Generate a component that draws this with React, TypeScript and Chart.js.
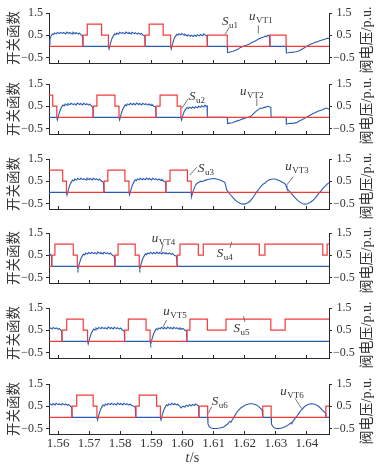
import React, { useEffect, useRef } from 'react';
import { Chart, registerables } from 'chart.js';

Chart.register(...registerables);

// ---------- axes ----------
const X_MIN = 1.5571;
const X_MAX = 1.6471;
const Y_MIN = -0.75;
const Y_MAX = 1.5;
const xTickValues = [1.56, 1.57, 1.58, 1.59, 1.6, 1.61, 1.62, 1.63, 1.64];
const yTickValues = [-0.5, 0.5, 1.5];
const leftTitle = '开关函数';
const rightTitle = '阀电压/p.u.';
const xTitleItalic = 't';
const xTitleRest = '/s';

// ---------- switching functions: [time, value from this time on] ----------
const switchU1 = [[1.5571, 0], [1.568, 0.5], [1.5694, 1], [1.574, 0.5], [1.5762, 0], [1.588, 0.5], [1.5893, 1], [1.5938, 0.5], [1.5962, 0], [1.608, 0.5], [1.6144, 0], [1.6281, 0.5], [1.6333, 0], [1.6471, 0]];
const switchU2 = [[1.5571, 1], [1.5583, 0.5], [1.5596, 0], [1.5713, 0.5], [1.5725, 1], [1.5783, 0.5], [1.5796, 0], [1.5915, 0.5], [1.5928, 1], [1.5983, 0.5], [1.5995, 0], [1.6471, 0]];
const switchU3 = [[1.5571, 1], [1.5615, 0.5], [1.5627, 0], [1.5748, 0.5], [1.576, 1], [1.5815, 0.5], [1.5828, 0], [1.5947, 0.5], [1.596, 1], [1.6016, 0.5], [1.6028, 0], [1.6471, 0]];
const switchU4 = [[1.5571, 0], [1.558, 0.5], [1.559, 1], [1.5649, 0.5], [1.5662, 0], [1.5783, 0.5], [1.5793, 1], [1.5848, 0.5], [1.5861, 0], [1.5983, 0.5], [1.5992, 1], [1.6051, 0.5], [1.6067, 1], [1.6247, 0.5], [1.6265, 1], [1.6451, 0.5], [1.6465, 1], [1.6471, 1]];
const switchU5 = [[1.5571, 0], [1.5613, 0.5], [1.5628, 1], [1.5681, 0.5], [1.5695, 0], [1.5814, 0.5], [1.5826, 1], [1.5883, 0.5], [1.5896, 0], [1.6014, 0.5], [1.6024, 1], [1.608, 0.5], [1.614, 1], [1.6284, 0.5], [1.633, 1], [1.6471, 1]];
const switchU6 = [[1.5571, 0], [1.5645, 0.5], [1.566, 1], [1.5713, 0.5], [1.5725, 0], [1.585, 0.5], [1.5861, 1], [1.5917, 0.5], [1.5929, 0], [1.6053, 0.5], [1.6081, 0], [1.6258, 0.5], [1.6285, 0], [1.6461, 0.5], [1.6471, 0.5]];

// ---------- valve voltages: [time, p.u.] ----------
const voltVT1 = [
  [1.5571, 0.08], [1.5574, 0.3], [1.5578, 0.48], [1.5582, 0.56], [1.5586, 0.53], [1.5589, 0.6], [1.5595, 0.56], [1.5598, 0.62], [1.5605, 0.57], [1.5608, 0.63], [1.5615, 0.58], [1.5618, 0.62], [1.5625, 0.56], [1.5628, 0.64], [1.5635, 0.58], [1.5638, 0.62], [1.5645, 0.56], [1.5648, 0.63], [1.5655, 0.57], [1.5658, 0.62], [1.5665, 0.55], [1.5668, 0.6], [1.5675, 0.5], [1.5679, 0.45], [1.568, 0],
  [1.5762, 0], [1.5764, -0.12], [1.5768, 0.1], [1.5773, 0.34], [1.5778, 0.47], [1.5782, 0.56], [1.5786, 0.52], [1.5789, 0.6], [1.5795, 0.55], [1.5798, 0.63], [1.5805, 0.58], [1.5808, 0.62], [1.5815, 0.57], [1.5818, 0.64], [1.5825, 0.58], [1.5828, 0.62], [1.5835, 0.56], [1.5838, 0.63], [1.5845, 0.57], [1.5848, 0.61], [1.5855, 0.55], [1.5858, 0.6], [1.5865, 0.54], [1.5868, 0.58], [1.5874, 0.5], [1.5879, 0.46], [1.588, 0],
  [1.5962, 0], [1.5964, -0.12], [1.5968, 0.1], [1.5973, 0.34], [1.5978, 0.46], [1.5982, 0.54], [1.5986, 0.5], [1.5989, 0.57], [1.5995, 0.52], [1.5998, 0.58], [1.6005, 0.5], [1.6008, 0.55], [1.6015, 0.47], [1.6018, 0.52], [1.6025, 0.45], [1.6028, 0.5], [1.6035, 0.44], [1.6038, 0.5], [1.6045, 0.45], [1.6048, 0.52], [1.6055, 0.47], [1.6058, 0.53], [1.6065, 0.48], [1.6068, 0.56], [1.6074, 0.5], [1.6079, 0.47], [1.608, 0],
  [1.6144, 0], [1.6145, -0.28], [1.615, -0.27], [1.6156, -0.24], [1.6163, -0.22], [1.617, -0.18], [1.6177, -0.14], [1.6185, -0.06], [1.6192, -0.02], [1.62, 0.02], [1.6208, 0.06], [1.6217, 0.12], [1.6224, 0.18], [1.6231, 0.22], [1.6238, 0.27], [1.6244, 0.33], [1.625, 0.36], [1.6256, 0.4], [1.6262, 0.42], [1.6266, 0.46], [1.627, 0.44], [1.6275, 0.5], [1.6279, 0.48], [1.6281, 0],
  [1.6333, 0], [1.6334, -0.3], [1.634, -0.29], [1.6348, -0.27], [1.6356, -0.26], [1.6364, -0.24], [1.6371, -0.22], [1.6378, -0.18], [1.6385, -0.12], [1.6392, -0.06], [1.6399, 0], [1.6406, 0.05], [1.6413, 0.1], [1.642, 0.14], [1.6426, 0.18], [1.6432, 0.2], [1.6439, 0.24], [1.6446, 0.27], [1.6452, 0.3], [1.6458, 0.32], [1.6464, 0.36], [1.6471, 0.35],
];
const voltVT2 = [
  [1.5571, 0], [1.5596, 0], [1.5598, -0.12], [1.5602, 0.1], [1.5607, 0.33], [1.5612, 0.47], [1.5616, 0.55], [1.562, 0.51], [1.5623, 0.6], [1.5629, 0.55], [1.5632, 0.62], [1.5639, 0.57], [1.5642, 0.63], [1.5649, 0.57], [1.5652, 0.61], [1.5659, 0.56], [1.5662, 0.64], [1.5669, 0.58], [1.5672, 0.62], [1.5679, 0.56], [1.5682, 0.63], [1.5689, 0.57], [1.5692, 0.61], [1.5699, 0.55], [1.5702, 0.6], [1.5708, 0.5], [1.5712, 0.45], [1.5713, 0],
  [1.5796, 0], [1.5798, -0.12], [1.5802, 0.1], [1.5807, 0.33], [1.5812, 0.47], [1.5816, 0.56], [1.582, 0.52], [1.5823, 0.6], [1.5829, 0.56], [1.5832, 0.63], [1.5839, 0.57], [1.5842, 0.62], [1.5849, 0.57], [1.5852, 0.64], [1.5859, 0.58], [1.5862, 0.62], [1.5869, 0.56], [1.5872, 0.63], [1.5879, 0.57], [1.5882, 0.61], [1.5889, 0.55], [1.5892, 0.6], [1.5899, 0.54], [1.5902, 0.58], [1.5908, 0.5], [1.5914, 0.46], [1.5915, 0],
  [1.5995, 0], [1.5997, -0.12], [1.6001, 0.08], [1.6006, 0.28], [1.6011, 0.38], [1.6015, 0.44], [1.6019, 0.4], [1.6022, 0.46], [1.6029, 0.41], [1.6032, 0.47], [1.6039, 0.42], [1.6042, 0.48], [1.6049, 0.43], [1.6052, 0.5], [1.6059, 0.45], [1.6062, 0.52], [1.6069, 0.47], [1.6072, 0.55], [1.6076, 0.5], [1.6079, 0.52], [1.608, 0],
  [1.6144, 0], [1.6145, -0.28], [1.6152, -0.26], [1.616, -0.24], [1.6168, -0.2], [1.6176, -0.16], [1.6185, -0.12], [1.6192, -0.08], [1.62, -0.04], [1.6208, -0.01], [1.6217, 0.02], [1.6224, 0.1], [1.6231, 0.2], [1.6239, 0.3], [1.6245, 0.36], [1.625, 0.42], [1.6256, 0.4], [1.6262, 0.45], [1.6268, 0.46], [1.6273, 0.5], [1.6279, 0.48], [1.6284, 0.45], [1.6285, 0],
  [1.6333, 0], [1.6334, -0.3], [1.6342, -0.28], [1.635, -0.27], [1.6358, -0.26], [1.6367, -0.24], [1.6374, -0.18], [1.6381, -0.13], [1.6388, -0.08], [1.6394, -0.03], [1.6399, 0], [1.6406, 0.06], [1.6413, 0.12], [1.642, 0.17], [1.6426, 0.21], [1.6432, 0.25], [1.644, 0.3], [1.6448, 0.33], [1.6455, 0.38], [1.6461, 0.42], [1.6466, 0.4], [1.6471, 0.36],
];
const voltVT3 = [
  [1.5571, 0], [1.5627, 0], [1.5629, -0.12], [1.5633, 0.1], [1.5638, 0.33], [1.5643, 0.47], [1.5647, 0.55], [1.5651, 0.51], [1.5654, 0.6], [1.566, 0.55], [1.5663, 0.62], [1.567, 0.57], [1.5673, 0.63], [1.568, 0.57], [1.5683, 0.61], [1.569, 0.56], [1.5693, 0.64], [1.57, 0.58], [1.5703, 0.62], [1.571, 0.56], [1.5713, 0.63], [1.572, 0.57], [1.5723, 0.61], [1.573, 0.55], [1.5733, 0.6], [1.574, 0.5], [1.5746, 0.45], [1.5748, 0],
  [1.5828, 0], [1.583, -0.12], [1.5834, 0.1], [1.5839, 0.33], [1.5844, 0.47], [1.5848, 0.56], [1.5852, 0.52], [1.5855, 0.6], [1.5861, 0.56], [1.5864, 0.63], [1.5871, 0.57], [1.5874, 0.62], [1.5881, 0.57], [1.5884, 0.64], [1.5891, 0.58], [1.5894, 0.62], [1.5901, 0.56], [1.5904, 0.63], [1.5911, 0.57], [1.5914, 0.61], [1.5921, 0.55], [1.5924, 0.6], [1.5931, 0.54], [1.5934, 0.58], [1.594, 0.5], [1.5946, 0.45], [1.5947, 0],
  [1.6028, 0], [1.6029, -0.2], [1.6033, 0], [1.6038, 0.2], [1.6043, 0.35], [1.6048, 0.42], [1.6053, 0.45], [1.6058, 0.5], [1.6063, 0.48], [1.6068, 0.52], [1.6075, 0.55], [1.6082, 0.58], [1.6089, 0.6], [1.6096, 0.61], [1.6103, 0.62], [1.611, 0.6], [1.6118, 0.57], [1.6125, 0.53], [1.6131, 0.49], [1.6136, 0.45], [1.6139, 0.3], [1.6142, 0.12], [1.6148, 0], [1.6155, -0.12], [1.6163, -0.25], [1.617, -0.35], [1.6178, -0.44], [1.6186, -0.5], [1.6194, -0.53], [1.6202, -0.52], [1.621, -0.47], [1.6217, -0.4], [1.6224, -0.28], [1.6231, -0.14], [1.6239, 0.02], [1.6246, 0.15], [1.6253, 0.28], [1.626, 0.38], [1.6266, 0.42], [1.627, 0.48], [1.6276, 0.54], [1.6283, 0.58], [1.629, 0.6], [1.6297, 0.6], [1.6304, 0.57], [1.6311, 0.53], [1.6318, 0.48], [1.6324, 0.43], [1.633, 0.38], [1.6333, 0.3], [1.6336, 0.16], [1.6342, 0.08], [1.6349, -0.04], [1.6356, -0.15], [1.6363, -0.26], [1.637, -0.36], [1.6378, -0.44], [1.6386, -0.51], [1.6394, -0.53], [1.6402, -0.51], [1.641, -0.46], [1.6418, -0.38], [1.6425, -0.28], [1.6432, -0.16], [1.6439, -0.04], [1.6446, 0.08], [1.6453, 0.2], [1.646, 0.3], [1.6466, 0.38], [1.6471, 0.44],
];
const voltVT4 = [
  [1.5571, 0.5], [1.5574, 0.56], [1.5577, 0.5], [1.5579, 0.46], [1.558, 0],
  [1.5662, 0], [1.5664, -0.12], [1.5668, 0.1], [1.5673, 0.33], [1.5678, 0.47], [1.5682, 0.55], [1.5686, 0.51], [1.5689, 0.6], [1.5695, 0.55], [1.5698, 0.62], [1.5705, 0.57], [1.5708, 0.63], [1.5715, 0.57], [1.5718, 0.61], [1.5725, 0.56], [1.5728, 0.64], [1.5735, 0.58], [1.5738, 0.62], [1.5745, 0.56], [1.5748, 0.63], [1.5755, 0.57], [1.5758, 0.61], [1.5765, 0.55], [1.5768, 0.6], [1.5775, 0.5], [1.5781, 0.45], [1.5783, 0],
  [1.5861, 0], [1.5863, -0.12], [1.5867, 0.1], [1.5872, 0.33], [1.5877, 0.47], [1.5881, 0.56], [1.5885, 0.52], [1.5888, 0.6], [1.5894, 0.56], [1.5897, 0.63], [1.5904, 0.57], [1.5907, 0.62], [1.5914, 0.57], [1.5917, 0.64], [1.5924, 0.58], [1.5927, 0.62], [1.5934, 0.56], [1.5937, 0.63], [1.5944, 0.57], [1.5947, 0.61], [1.5954, 0.55], [1.5957, 0.6], [1.5964, 0.54], [1.5967, 0.58], [1.5974, 0.5], [1.5981, 0.45], [1.5983, 0], [1.6471, 0],
];
const voltVT5 = [
  [1.5571, 0.55], [1.5575, 0.6], [1.5581, 0.55], [1.5584, 0.62], [1.5591, 0.57], [1.5594, 0.6], [1.5601, 0.54], [1.5604, 0.58], [1.5609, 0.5], [1.5612, 0.45], [1.5613, 0],
  [1.5695, 0], [1.5697, -0.12], [1.5701, 0.1], [1.5706, 0.33], [1.5711, 0.47], [1.5715, 0.55], [1.5719, 0.51], [1.5722, 0.6], [1.5728, 0.55], [1.5731, 0.62], [1.5738, 0.57], [1.5741, 0.63], [1.5748, 0.57], [1.5751, 0.61], [1.5758, 0.56], [1.5761, 0.64], [1.5768, 0.58], [1.5771, 0.62], [1.5778, 0.56], [1.5781, 0.63], [1.5788, 0.57], [1.5791, 0.61], [1.5798, 0.55], [1.5801, 0.6], [1.5808, 0.5], [1.5813, 0.45], [1.5814, 0],
  [1.5896, 0], [1.5898, -0.12], [1.5902, 0.1], [1.5907, 0.33], [1.5912, 0.47], [1.5916, 0.56], [1.592, 0.52], [1.5923, 0.6], [1.5929, 0.56], [1.5932, 0.63], [1.5939, 0.57], [1.5942, 0.62], [1.5949, 0.57], [1.5952, 0.64], [1.5959, 0.58], [1.5962, 0.62], [1.5969, 0.56], [1.5972, 0.63], [1.5979, 0.57], [1.5982, 0.61], [1.5989, 0.55], [1.5992, 0.6], [1.5999, 0.54], [1.6002, 0.58], [1.6008, 0.5], [1.6013, 0.46], [1.6014, 0], [1.6471, 0],
];
const voltVT6 = [
  [1.5571, 0.55], [1.5575, 0.6], [1.5581, 0.55], [1.5584, 0.62], [1.5591, 0.56], [1.5594, 0.63], [1.5601, 0.57], [1.5604, 0.61], [1.5611, 0.55], [1.5614, 0.62], [1.5621, 0.56], [1.5624, 0.6], [1.5631, 0.54], [1.5634, 0.58], [1.564, 0.5], [1.5644, 0.45], [1.5645, 0],
  [1.5725, 0], [1.5727, -0.12], [1.5731, 0.1], [1.5736, 0.33], [1.5741, 0.47], [1.5745, 0.55], [1.5749, 0.51], [1.5752, 0.6], [1.5758, 0.55], [1.5761, 0.62], [1.5768, 0.57], [1.5771, 0.63], [1.5778, 0.57], [1.5781, 0.61], [1.5788, 0.56], [1.5791, 0.64], [1.5798, 0.58], [1.5801, 0.62], [1.5808, 0.56], [1.5811, 0.63], [1.5818, 0.57], [1.5821, 0.61], [1.5828, 0.55], [1.5831, 0.6], [1.5838, 0.52], [1.5844, 0.5], [1.5848, 0.45], [1.585, 0],
  [1.5929, 0], [1.5931, -0.12], [1.5935, 0.1], [1.594, 0.33], [1.5945, 0.47], [1.5949, 0.56], [1.5953, 0.52], [1.5956, 0.6], [1.5962, 0.56], [1.5965, 0.63], [1.5972, 0.57], [1.5975, 0.62], [1.5982, 0.55], [1.5985, 0.6], [1.5992, 0.48], [1.5996, 0.42], [1.6001, 0.5], [1.6008, 0.46], [1.6012, 0.54], [1.6019, 0.5], [1.6022, 0.57], [1.6029, 0.52], [1.6032, 0.58], [1.6039, 0.53], [1.6042, 0.6], [1.6048, 0.55], [1.6052, 0.5], [1.6053, 0],
  [1.6081, 0], [1.6082, -0.3], [1.6086, -0.42], [1.6092, -0.48], [1.61, -0.5], [1.611, -0.5], [1.612, -0.48], [1.6131, -0.45], [1.6138, -0.38], [1.6145, -0.3], [1.615, -0.22], [1.6153, -0.18], [1.6156, -0.2], [1.616, -0.12], [1.6166, 0.02], [1.6174, 0.22], [1.6182, 0.35], [1.6189, 0.44], [1.6196, 0.5], [1.6203, 0.55], [1.621, 0.59], [1.6217, 0.61], [1.6224, 0.61], [1.6231, 0.59], [1.6239, 0.55], [1.6245, 0.48], [1.6251, 0.4], [1.6256, 0.33], [1.6258, 0],
  [1.6285, 0], [1.6286, -0.3], [1.6291, -0.42], [1.6297, -0.48], [1.6304, -0.51], [1.6313, -0.5], [1.6324, -0.46], [1.6333, -0.4], [1.634, -0.34], [1.6346, -0.28], [1.635, -0.24], [1.6352, -0.26], [1.6356, -0.16], [1.6362, -0.05], [1.6367, 0.04], [1.6375, 0.2], [1.6382, 0.33], [1.6388, 0.42], [1.6394, 0.5], [1.64, 0.56], [1.6408, 0.6], [1.6415, 0.61], [1.6422, 0.6], [1.643, 0.56], [1.6437, 0.5], [1.6443, 0.42], [1.645, 0.32], [1.6456, 0.24], [1.646, 0.2], [1.6461, 0], [1.6471, 0],
];

// ---------- annotation labels (text anchor and leader line in data units) ----------
const notesP1 = [
  { main: 'S', sub: 'u1', at: [1.6127, 0.94], line: [1.615, 0.85, 1.6137, 0.54] },
  { main: 'u', sub: 'VT1', at: [1.6214, 1.17], line: [1.6244, 0.94, 1.6244, 0.58] },
];
const notesP2 = [
  { main: 'S', sub: 'u2', at: [1.6021, 0.78], line: [1.6019, 0.85, 1.5998, 0.4] },
  { main: 'u', sub: 'VT2', at: [1.6185, 1.02], line: [1.6239, 0.85, 1.6239, 0.51] },
];
const notesP3 = [
  { main: 'S', sub: 'u3', at: [1.605, 0.93], line: [1.6046, 1.13, 1.6024, 0.78] },
  { main: 'u', sub: 'VT3', at: [1.633, 1.0], line: [1.6356, 0.7, 1.6335, 0.33] },
];
const notesP4 = [
  { main: 'u', sub: 'VT4', at: [1.5901, 1.11], line: [1.5938, 0.99, 1.5931, 0.65] },
  { main: 'S', sub: 'u4', at: [1.611, 0.44], line: [1.6158, 1.1, 1.6153, 0.83] },
];
const notesP5 = [
  { main: 'u', sub: 'VT5', at: [1.5938, 1.18], line: [1.5949, 0.96, 1.5938, 0.65] },
  { main: 'S', sub: 'u5', at: [1.6164, 0.44], line: [1.6196, 1.13, 1.6201, 0.87] },
];
const notesP6 = [
  { main: 'S', sub: 'u6', at: [1.6094, 0.55], line: [1.6094, 0.48, 1.6083, 0.18] },
  { main: 'u', sub: 'VT6', at: [1.6314, 1.0], line: [1.6362, 0.85, 1.6383, 0.4] },
];

const panels = [
  { sw: switchU1, volt: voltVT1, notes: notesP1 },
  { sw: switchU2, volt: voltVT2, notes: notesP2 },
  { sw: switchU3, volt: voltVT3, notes: notesP3 },
  { sw: switchU4, volt: voltVT4, notes: notesP4 },
  { sw: switchU5, volt: voltVT5, notes: notesP5 },
  { sw: switchU6, volt: voltVT6, notes: notesP6 },
];

// ---------- layout & style ----------
const PANEL_TOPS = [13, 84, 159, 233, 308, 384];
const PLOT_H = 50;
const PAD_TOP = 12;
const PAGE_H = 467;
const RED = '#f23a3a';
const BLUE = '#2b5cb4';
const AXIS = '#2a2a2a';
const TEXT = '#333333';
const SERIF = '"Liberation Serif", "Times New Roman", serif';
const CJK = '"Noto Sans CJK SC", sans-serif';

const fmtY = (v: number) => (v < 0 ? '\u2212' + Math.abs(v).toFixed(1) : v.toFixed(1));

function makeDecor(notes: any[], isLast: boolean) {
  return {
    id: 'decor',
    afterDraw(chart: any) {
      const { ctx, chartArea } = chart;
      const xs = chart.scales.x;
      const ys = chart.scales.y;
      ctx.save();
      notes.forEach((n) => {
        ctx.strokeStyle = '#555';
        ctx.lineWidth = 0.8;
        ctx.beginPath();
        ctx.moveTo(xs.getPixelForValue(n.line[0]), ys.getPixelForValue(n.line[1]));
        ctx.lineTo(xs.getPixelForValue(n.line[2]), ys.getPixelForValue(n.line[3]));
        ctx.stroke();
        const x = xs.getPixelForValue(n.at[0]);
        const y = ys.getPixelForValue(n.at[1]);
        ctx.fillStyle = TEXT;
        ctx.textAlign = 'left';
        ctx.textBaseline = 'alphabetic';
        ctx.font = `italic 13px ${SERIF}`;
        ctx.fillText(n.main, x, y);
        const w = ctx.measureText(n.main).width;
        ctx.font = `9px ${SERIF}`;
        ctx.fillText(n.sub, x + w + 0.5, y + 3);
      });
      // right-hand axis title, reading bottom to top
      ctx.fillStyle = TEXT;
      ctx.font = `14px "Liberation Serif", "Noto Sans CJK SC"`;
      ctx.textAlign = 'center';
      ctx.textBaseline = 'middle';
      ctx.translate(chartArea.right + 38, (chartArea.top + chartArea.bottom) / 2 + 2);
      ctx.rotate(-Math.PI / 2);
      ctx.fillText(rightTitle, 0, 0);
      ctx.restore();
      if (isLast) {
        ctx.save();
        ctx.fillStyle = TEXT;
        ctx.textBaseline = 'middle';
        ctx.textAlign = 'left';
        ctx.font = `italic 14px ${SERIF}`;
        const w1 = ctx.measureText(xTitleItalic).width;
        ctx.font = `14px ${SERIF}`;
        const w2 = ctx.measureText(xTitleRest).width;
        const cx = (chartArea.left + chartArea.right) / 2 + 3;
        const y = chartArea.bottom + 24;
        ctx.font = `italic 14px ${SERIF}`;
        ctx.fillText(xTitleItalic, cx - (w1 + w2) / 2, y);
        ctx.font = `14px ${SERIF}`;
        ctx.fillText(xTitleRest, cx - (w1 + w2) / 2 + w1 + 0.5, y);
        ctx.restore();
      }
    },
  };
}

function Panel({ index }: { index: number }) {
  const ref = useRef<HTMLCanvasElement>(null);
  const p = panels[index];
  const isLast = index === panels.length - 1;
  const top = PANEL_TOPS[index] - PAD_TOP;
  const h = isLast ? PAGE_H - top : PAD_TOP + PLOT_H + 14;
  useEffect(() => {
    const yTicksCb = (s: any) => {
      s.ticks = yTickValues.map((value) => ({ value }));
    };
    const chart = new Chart(ref.current as HTMLCanvasElement, {
      type: 'line',
      data: {
        datasets: [
          {
            data: p.sw.map(([x, y]) => ({ x, y })),
            borderColor: RED,
            borderWidth: 1.2,
            pointRadius: 0,
            stepped: 'before',
            fill: false,
          },
          {
            data: p.volt.map(([x, y]) => ({ x, y })),
            borderColor: BLUE,
            borderWidth: 1.1,
            pointRadius: 0,
            tension: 0,
            fill: false,
          },
        ],
      },
      options: {
        responsive: false,
        animation: false,
        events: [],
        layout: { padding: { top: PAD_TOP, left: 0, right: 0, bottom: 0 } },
        plugins: { legend: { display: false }, tooltip: { enabled: false } },
        scales: {
          x: {
            type: 'linear',
            min: X_MIN,
            max: X_MAX,
            afterBuildTicks: (s: any) => {
              s.ticks = xTickValues.map((value) => ({ value }));
            },
            afterFit: (s: any) => {
              s.height = h - PAD_TOP - PLOT_H;
            },
            grid: { drawOnChartArea: false, drawTicks: true, tickLength: -3, color: AXIS },
            border: { color: AXIS, width: 1 },
            ticks: {
              display: isLast,
              autoSkip: false,
              maxRotation: 0,
              padding: 4.5,
              color: TEXT,
              font: { family: SERIF, size: 13 },
              callback: (v: any) => Number(v).toFixed(2),
            },
          },
          y: {
            type: 'linear',
            position: 'left',
            min: Y_MIN,
            max: Y_MAX,
            afterBuildTicks: yTicksCb,
            afterFit: (s: any) => {
              s.width = 49;
            },
            grid: { drawOnChartArea: false, drawTicks: true, tickLength: 3, color: AXIS },
            border: { color: AXIS, width: 1 },
            ticks: {
              padding: 3,
              color: TEXT,
              font: { family: SERIF, size: 12 },
              callback: (v: any) => fmtY(Number(v)),
            },
            title: {
              display: true,
              text: leftTitle,
              color: TEXT,
              font: { family: CJK, size: 13.5 },
              padding: { top: 4.4, bottom: 0 },
            },
          },
          y2: {
            type: 'linear',
            position: 'right',
            min: Y_MIN,
            max: Y_MAX,
            afterBuildTicks: yTicksCb,
            afterFit: (s: any) => {
              s.width = 51;
            },
            grid: { drawOnChartArea: false, drawTicks: true, tickLength: 3, color: AXIS },
            border: { color: AXIS, width: 1 },
            ticks: {
              padding: 1,
              crossAlign: 'center',
              color: TEXT,
              font: { family: SERIF, size: 12 },
              callback: (v: any) => fmtY(Number(v)),
            },
          },
        },
      } as any,
      plugins: [makeDecor(p.notes, isLast)],
    });
    return () => chart.destroy();
  }, []);
  return (
    <canvas
      ref={ref}
      width={380}
      height={h}
      style={{ position: 'absolute', left: 0, top, width: 380, height: h }}
    />
  );
}

export default function App() {
  return (
    <div style={{ position: 'absolute', left: 0, top: 0, width: 380, height: PAGE_H, background: '#fff' }}>
      {panels.map((_, i) => (
        <Panel key={i} index={i} />
      ))}
    </div>
  );
}
